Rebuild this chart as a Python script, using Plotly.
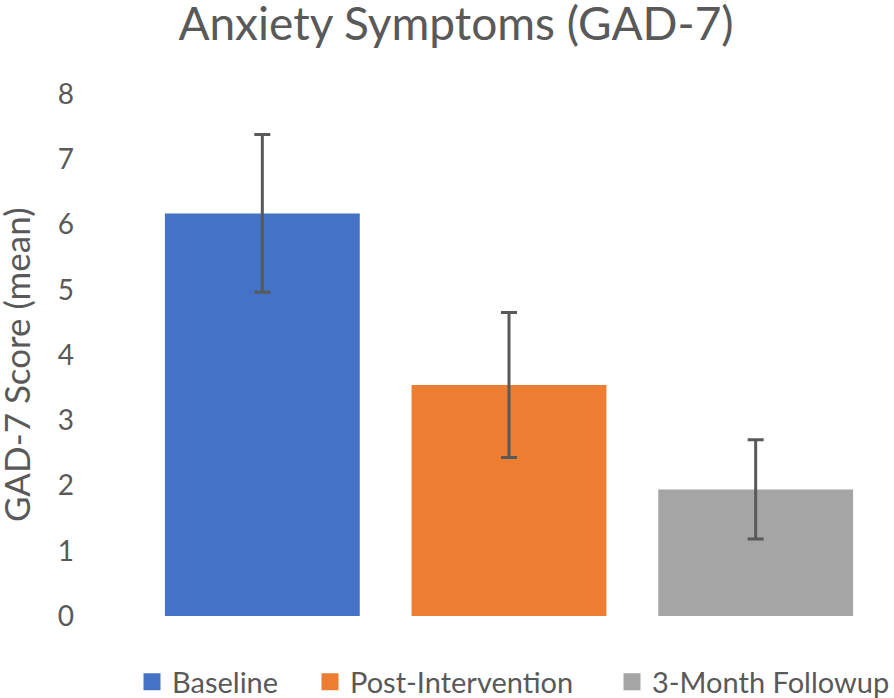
import plotly.graph_objects as go

categories = ["Baseline", "Post-Intervention", "3-Month Followup"]
means = [6.17, 3.54, 1.94]
errors = [1.21, 1.11, 0.76]
colors = ["#4472C4", "#ED7D31", "#A5A5A5"]
legend_widths = [133, 257, 240]
y_ticks = [0, 1, 2, 3, 4, 5, 6, 7, 8]

FONT = "Lato"
TXT = "#595959"
W, H = 894, 698
L, R, T, B = 139, 15, 94, 82
PW, PH = W - L - R, H - T - B

fig = go.Figure()
# the bars themselves
for cat, m, e, c in zip(categories, means, errors, colors):
    fig.add_trace(go.Bar(
        x=[cat], y=[m], name=cat, showlegend=False,
        marker=dict(color=c, line=dict(width=0)),
        error_y=dict(type="data", array=[e], visible=True,
                     color="#595959", thickness=3, width=8),
    ))
# legend entries (larger square swatches, as in the original)
for cat, c, lw in zip(categories, colors, legend_widths):
    fig.add_trace(go.Bar(
        x=[cat], y=[None], name=cat, showlegend=True, hoverinfo="skip",
        marker=dict(color=c, line=dict(color=c, width=5)),
        legendwidth=lw,
    ))

fig.add_annotation(
    text="GAD-7 Score (mean)", textangle=-90,
    xref="paper", yref="paper",
    x=(16 - L) / PW, y=(H - B - 365) / PH,
    xanchor="center", yanchor="middle", showarrow=False,
    font=dict(family=FONT, size=35, color=TXT),
)

fig.update_layout(
    width=W, height=H,
    paper_bgcolor="white", plot_bgcolor="white",
    barmode="overlay", bargap=0.21,
    margin=dict(l=L, r=R, t=T, b=B, autoexpand=False),
    title=dict(text="Anxiety Symptoms (GAD-7)", x=456/W, xanchor="center",
               xref="container",
               y=1 - 24/H, yanchor="middle", yref="container",
               font=dict(family=FONT, size=46, color=TXT)),
    xaxis=dict(type="category", categoryorder="array", categoryarray=categories,
               range=[-0.5, 2.5], showticklabels=False, showgrid=False,
               zeroline=False, showline=False, ticks=""),
    yaxis=dict(range=[0, 8], tickvals=y_ticks, showgrid=False, zeroline=False,
               showline=False, ticks="", ticklabelstandoff=64,
               tickfont=dict(family=FONT, size=28, color=TXT)),
    legend=dict(orientation="h", x=(132 - L) / PW, xanchor="left",
                y=-(682 - (H - B)) / PH, yanchor="middle",
                font=dict(family=FONT, size=29, color=TXT),
                bgcolor="rgba(0,0,0,0)", borderwidth=0),
    showlegend=True,
)

fig.write_html("out.html", config={"displayModeBar": False},
               post_script="document.body.style.margin='0';")
